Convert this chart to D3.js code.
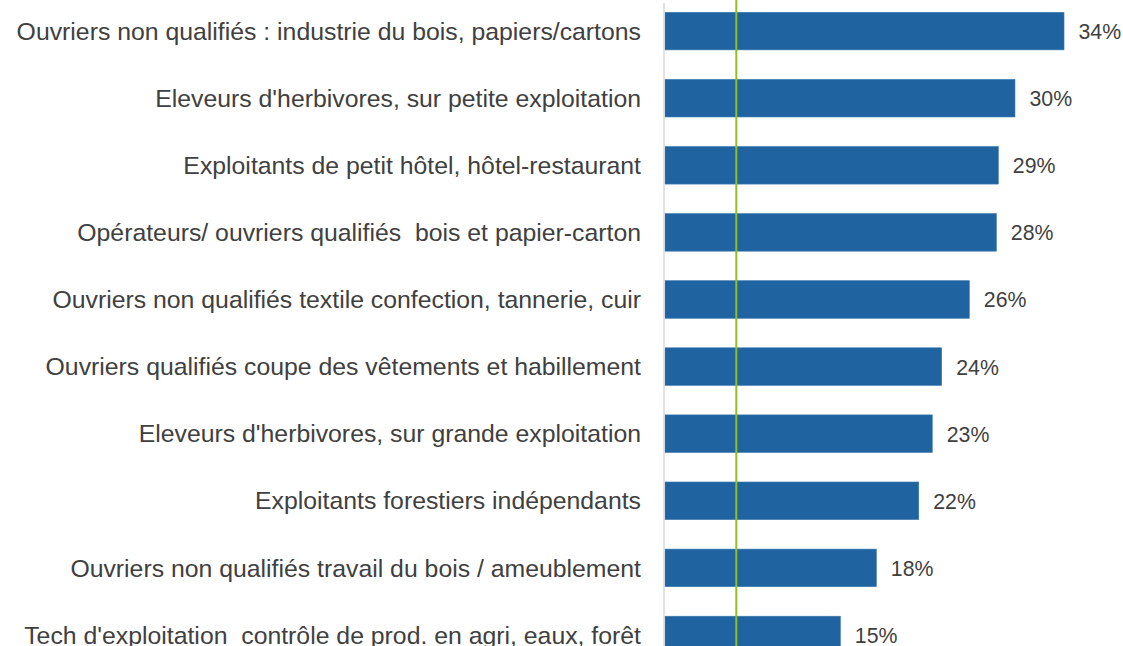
<!DOCTYPE html>
<html>
<head>
<meta charset="utf-8">
<script src="https://cdn.jsdelivr.net/npm/d3@7"></script>
<style>
  html, body { margin: 0; padding: 0; background: #fff; overflow: hidden; }
  svg { display: block; font-family: "Liberation Sans", Arial, sans-serif; }
  .cat { white-space: pre; }
</style>
</head>
<body>
<svg id="chart" width="1123" height="646"></svg>
<script>
// categories, top to bottom
const categories = [
  "Ouvriers non qualifiés : industrie du bois, papiers/cartons",
  "Eleveurs d'herbivores, sur petite exploitation",
  "Exploitants de petit hôtel, hôtel-restaurant",
  "Opérateurs/ ouvriers qualifiés  bois et papier-carton",
  "Ouvriers non qualifiés textile confection, tannerie, cuir",
  "Ouvriers qualifiés coupe des vêtements et habillement",
  "Eleveurs d'herbivores, sur grande exploitation",
  "Exploitants forestiers indépendants",
  "Ouvriers non qualifiés travail du bois / ameublement",
  "Tech d'exploitation  contrôle de prod. en agri, eaux, forêt"
];
// share in %
const values = [34.25, 30.04, 28.61, 28.44, 26.12, 23.75, 22.94, 21.78, 18.14, 15.05];
// reference (green line), all jobs average
const average = 6.12;

const svg = d3.select("#chart");
const width = 1123, height = 646;

const x = d3.scaleLinear()
  .domain([0, 40])
  .range([665, 665 + 40 * 11.65]);

const step = 67.1;
const y = d3.scaleBand()
  .domain(categories)
  .range([12.3 - 0.22 * step, 12.3 - 0.22 * step + categories.length * step])
  .paddingInner(0.44)
  .paddingOuter(0.22);

// bars
svg.selectAll(".bar")
  .data(values)
  .enter()
  .append("rect")
  .attr("class", "bar")
  .attr("x", x(0))
  .attr("y", (d, i) => y(categories[i]))
  .attr("width", d => x(d) - x(0))
  .attr("height", y.bandwidth())
  .attr("fill", "#1f64a0")
  .attr("stroke", "#3a78b0")
  .attr("stroke-width", 0.6);

// value axis line
svg.append("line")
  .attr("x1", x(0) - 1).attr("x2", x(0) - 1)
  .attr("y1", 3).attr("y2", height)
  .attr("stroke", "#d9d9d9")
  .attr("stroke-width", 1.5);

// category labels
svg.selectAll(".cat")
  .data(categories)
  .enter()
  .append("text")
  .attr("class", "cat")
  .attr("x", 641)
  .attr("y", d => y(d) + y.bandwidth() / 2)
  .attr("dy", "0.35em")
  .attr("text-anchor", "end")
  .attr("font-size", 24.8)
  .attr("fill", "#404040")
  .text(d => d);

// value labels
svg.selectAll(".val")
  .data(values)
  .enter()
  .append("text")
  .attr("class", "val")
  .attr("x", d => x(d) + 14.5)
  .attr("y", (d, i) => y(categories[i]) + y.bandwidth() / 2 + 0.5)
  .attr("dy", "0.35em")
  .attr("font-size", 21.3)
  .attr("fill", "#404040")
  .text(d => `${Math.round(d)}%`);

// average line
svg.append("line")
  .attr("x1", x(average)).attr("x2", x(average))
  .attr("y1", 0).attr("y2", height)
  .attr("stroke", "#92bf1f")
  .attr("stroke-width", 2);
</script>
</body>
</html>
